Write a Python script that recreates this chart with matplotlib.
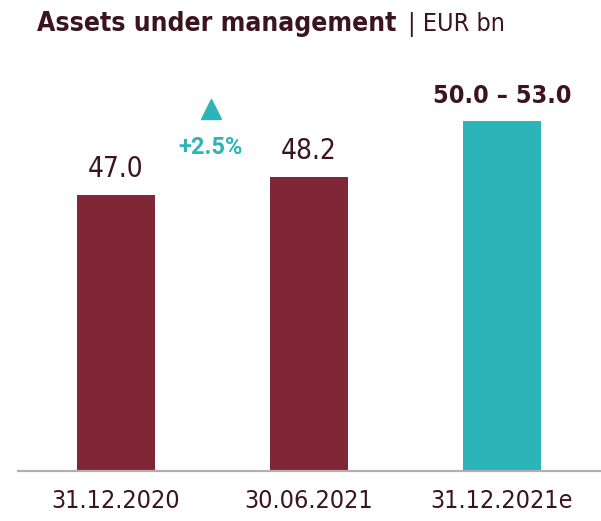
import matplotlib
matplotlib.use('Agg')
import matplotlib.pyplot as plt

categories = ["31.12.2020", "30.06.2021", "31.12.2021e"]
values = [47.0, 48.2, 51.9]
value_labels = ["47.0", "48.2", "50.0 \u2013 53.0"]
growth_label = "+2.5%"

maroon = "#7F2637"
teal = "#2BB5B8"
dark = "#3B1420"

plt.rcParams['font.family'] = ['DejaVu Sans']
plt.rcParams['font.stretch'] = 'condensed'

fig = plt.figure(figsize=(6.01, 5.21), dpi=100)
ax = fig.add_axes([18/601, 50/521, 582/601, 411/521])

x = range(len(categories))
colors = [maroon, maroon, teal]
ax.bar(x, values, width=0.404, color=colors, zorder=2)

ymin = 28.6
ax.set_ylim(ymin, ymin + 411/15.0)
ax.set_xlim(-0.508, 2.508)

# value labels above bars
for i, (v, lab) in enumerate(zip(values, value_labels)):
    if i == 2:
        ax.text(i, v + 1.25, lab, ha='center', va='baseline', fontsize=18,
                color=dark, fontweight='bold', stretch='condensed')
    else:
        ax.text(i, v + 1.2, lab, ha='center', va='baseline', fontsize=20,
                color=dark, stretch='condensed')

# growth marker between first two bars
ax.plot([0.49], [52.7], marker='^', markersize=15, color=teal, linestyle='none')
ax.text(0.49, 49.75, growth_label, ha='center', va='baseline', fontsize=17,
        color=teal, fontweight='bold', family=['Roboto', 'DejaVu Sans'],
        stretch='normal')

# axis styling
for s in ['top', 'right', 'left']:
    ax.spines[s].set_visible(False)
ax.spines['bottom'].set_color('#B9ABAF')
ax.spines['bottom'].set_linewidth(1.6)
ax.spines['bottom'].set_zorder(3)
ax.set_yticks([])
ax.set_xticks(list(x))
ax.set_xticklabels(categories, fontsize=18, color=dark)
ax.tick_params(axis='x', length=0, pad=13)

# title
t1 = fig.text(37/601, 1 - 31/521, "Assets under management", fontsize=19,
              fontweight='bold', color=dark, ha='left', va='baseline')
fig.canvas.draw()
bb = t1.get_window_extent()
fig.text((bb.x1 + 12)/601, 1 - 31/521, "| EUR bn", fontsize=18,
         color=dark, ha='left', va='baseline')

fig.savefig("out.png", dpi=100)
